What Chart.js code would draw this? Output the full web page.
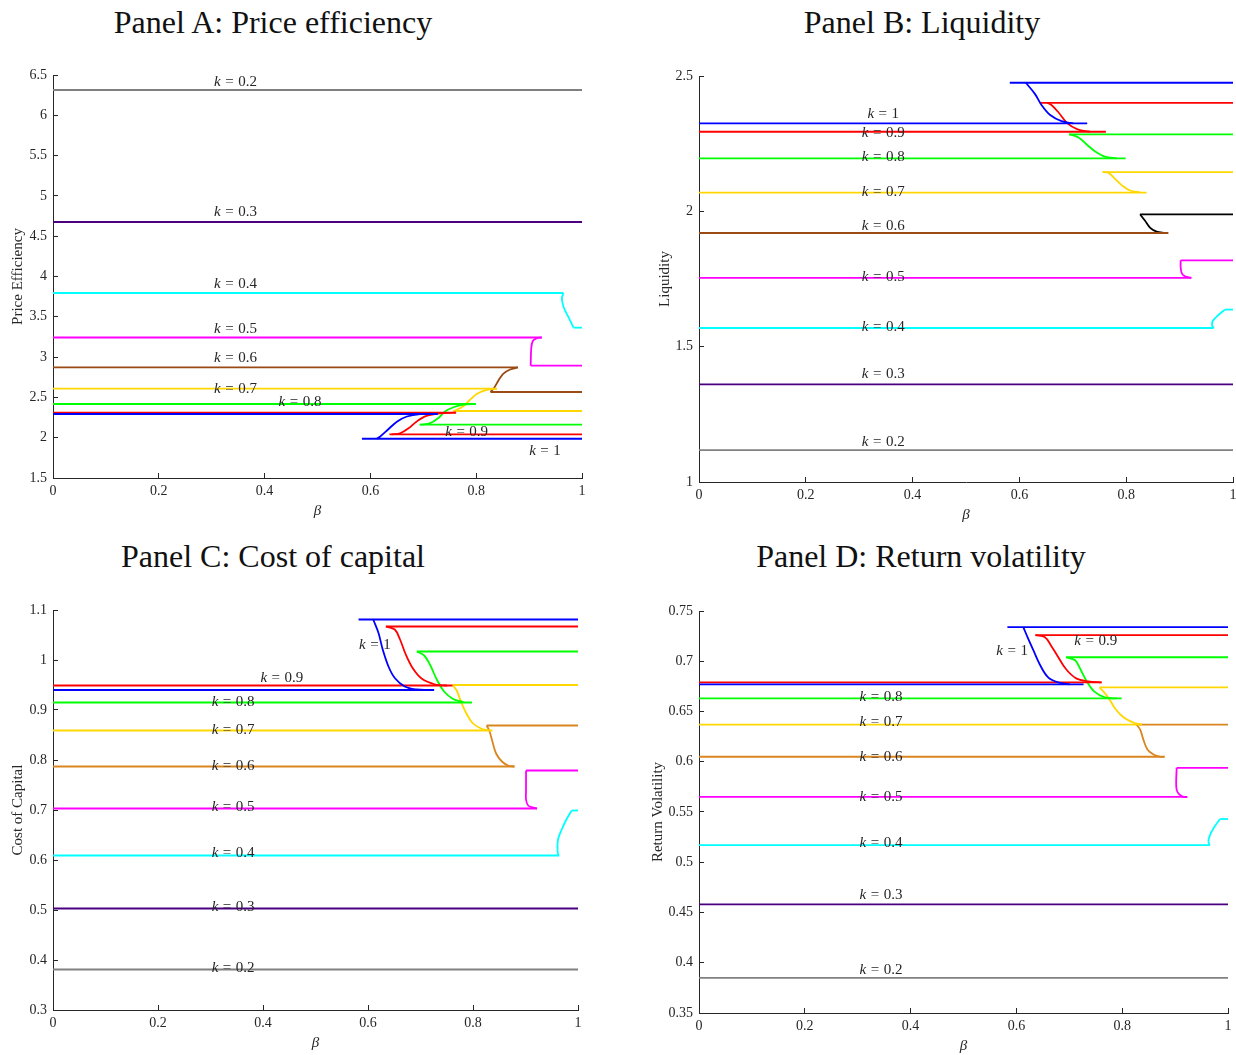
<!DOCTYPE html>
<html>
<head>
<meta charset="utf-8">
<script src="https://cdn.jsdelivr.net/npm/chart.js@4.4.1/dist/chart.umd.min.js"></script>
<style>
body { margin: 0; background: #fff; width: 1236px; height: 1055px; overflow: hidden; position: relative;
       font-family: "Liberation Serif", "Times New Roman", serif; }
.ttl { position: absolute; font-size: 32px; line-height: 32px; color: #111; white-space: nowrap; transform: translateX(-50%); }
canvas { position: absolute; }
</style>
</head>
<body>
<div class="ttl" style="left:273px; top:6px">Panel A: Price efficiency</div>
<div class="ttl" style="left:922px; top:6px">Panel B: Liquidity</div>
<div class="ttl" style="left:273px; top:540px">Panel C: Cost of capital</div>
<div class="ttl" style="left:921px; top:540px">Panel D: Return volatility</div>

<canvas id="chartA" width="600" height="475" style="left:0; top:45px"></canvas>
<canvas id="chartB" width="606" height="479" style="left:630px; top:45px"></canvas>
<canvas id="chartC" width="600" height="472" style="left:0; top:580px"></canvas>
<canvas id="chartD" width="606" height="475" style="left:630px; top:580px"></canvas>

<script>
// k levels, same order in every array below
const kLevels = ['1', '0.9', '0.8', '0.7', '0.6', '0.5', '0.4', '0.3', '0.2'];
const betaTicks = [0, 0.2, 0.4, 0.6, 0.8, 1];

// branches are [beta from, beta to, value]; folds are lists of [beta, value]

// Panel A: price efficiency
const priceTicks = [1.5, 2, 2.5, 3, 3.5, 4, 4.5, 5, 5.5, 6, 6.5];
const priceLeft = [[0, 0.727, 2.294], [0, 0.762, 2.310], [0, 0.799, 2.418], [0, 0.839, 2.610], [0, 0.879, 2.872],
                   [0, 0.924, 3.243], [0, 0.965, 3.795], [0, 1, 4.676], [0, 1, 6.314]];
const priceRight = [[0.584, 1, 1.987], [0.636, 1, 2.042], [0.693, 1, 2.161], [0.757, 1, 2.331], [0.827, 1, 2.567],
                    [0.903, 1, 2.893], [0.984, 1, 3.365], null, null];
const priceFold = [
    [[0.727, 2.294], [0.694, 2.292], [0.669, 2.263], [0.650, 2.199], [0.634, 2.105], [0.618, 2.012], [0.612, 1.987]],
    [[0.762, 2.310], [0.732, 2.303], [0.706, 2.270], [0.687, 2.199], [0.672, 2.116], [0.656, 2.054], [0.640, 2.042]],
    [[0.799, 2.418], [0.776, 2.411], [0.757, 2.378], [0.741, 2.324], [0.728, 2.242], [0.713, 2.180], [0.695, 2.161]],
    [[0.839, 2.610], [0.820, 2.592], [0.801, 2.542], [0.788, 2.468], [0.776, 2.393], [0.763, 2.344], [0.757, 2.331]],
    [[0.879, 2.872], [0.864, 2.846], [0.851, 2.793], [0.842, 2.710], [0.834, 2.620], [0.827, 2.567]],
    [[0.924, 3.243], [0.914, 3.233], [0.907, 3.200], [0.904, 3.109], [0.903, 2.893]],
    [[0.965, 3.795], [0.962, 3.729], [0.965, 3.625], [0.974, 3.501], [0.984, 3.365]],
    [], []
];
const priceLabelAt = [[0.930, 1.835], [0.782, 2.074], [0.467, 2.439], [0.345, 2.600], [0.345, 2.985],
                      [0.345, 3.345], [0.345, 3.907], [0.345, 4.804], [0.345, 6.417]];

// Panel B: liquidity
const liqTicks = [1, 1.5, 2, 2.5];
const liqLeft = [[0, 0.727, 2.325], [0, 0.762, 2.294], [0, 0.799, 2.196], [0, 0.838, 2.069], [0, 0.879, 1.920],
                 [0, 0.922, 1.754], [0, 0.964, 1.569], [0, 1, 1.361], [0, 1, 1.118]];
const liqRight = [[0.582, 1, 2.475], [0.639, 1, 2.401], [0.693, 1, 2.284], [0.756, 1, 2.145], [0.826, 1, 1.989],
                  [0.902, 1, 1.819], [0.985, 1, 1.637], null, null];
const liqFold = [
    [[0.612, 2.475], [0.629, 2.434], [0.642, 2.391], [0.657, 2.357], [0.679, 2.333], [0.701, 2.325]],
    [[0.652, 2.401], [0.660, 2.393], [0.673, 2.366], [0.690, 2.325], [0.709, 2.303], [0.732, 2.294]],
    [[0.693, 2.284], [0.710, 2.274], [0.726, 2.247], [0.742, 2.221], [0.760, 2.202], [0.782, 2.196]],
    [[0.756, 2.145], [0.767, 2.142], [0.779, 2.120], [0.792, 2.096], [0.807, 2.077], [0.826, 2.070]],
    [[0.826, 1.989], [0.835, 1.966], [0.845, 1.939], [0.857, 1.925], [0.873, 1.920]],
    [[0.902, 1.819], [0.902, 1.794], [0.904, 1.772], [0.910, 1.760], [0.922, 1.754]],
    [[0.985, 1.637], [0.972, 1.616], [0.962, 1.595], [0.961, 1.578], [0.964, 1.569]],
    [], []
];
const liqLabelAt = [[0.345, 2.360], [0.345, 2.288], [0.345, 2.199], [0.345, 2.071], [0.345, 1.945],
                    [0.345, 1.756], [0.345, 1.573], [0.345, 1.398], [0.345, 1.148]];

// Panel C: cost of capital
const cocTicks = [0.3, 0.4, 0.5, 0.6, 0.7, 0.8, 0.9, 1, 1.1];
const cocLeft = [[0, 0.726, 0.940], [0, 0.761, 0.949], [0, 0.798, 0.915], [0, 0.837, 0.859], [0, 0.879, 0.787],
                 [0, 0.922, 0.703], [0, 0.964, 0.609], [0, 1, 0.503], [0, 1, 0.381]];
const cocRight = [[0.582, 1, 1.081], [0.634, 1, 1.067], [0.693, 1, 1.017], [0.761, 1, 0.950], [0.826, 1, 0.869],
                  [0.901, 1, 0.779], [0.988, 1, 0.699], null, null];
const cocFold = [
    [[0.610, 1.081], [0.620, 1.054], [0.628, 1.021], [0.639, 0.987], [0.651, 0.964], [0.670, 0.947], [0.693, 0.941], [0.715, 0.940]],
    [[0.634, 1.067], [0.651, 1.061], [0.661, 1.041], [0.672, 1.011], [0.685, 0.984], [0.702, 0.963], [0.728, 0.951], [0.750, 0.949]],
    [[0.693, 1.017], [0.707, 1.009], [0.718, 0.991], [0.731, 0.961], [0.745, 0.937], [0.762, 0.922], [0.782, 0.916]],
    [[0.761, 0.950], [0.769, 0.939], [0.777, 0.917], [0.787, 0.894], [0.799, 0.874], [0.815, 0.863], [0.830, 0.859]],
    [[0.826, 0.869], [0.831, 0.859], [0.837, 0.837], [0.844, 0.813], [0.855, 0.797], [0.867, 0.789], [0.879, 0.787]],
    [[0.901, 0.779], [0.901, 0.741], [0.901, 0.721], [0.905, 0.709], [0.915, 0.705], [0.922, 0.703]],
    [[0.988, 0.699], [0.978, 0.681], [0.969, 0.661], [0.962, 0.641], [0.961, 0.621], [0.962, 0.611], [0.964, 0.609]],
    [], []
];
const cocLabelAt = [[0.613, 1.029], [0.436, 0.963], [0.343, 0.916], [0.343, 0.860], [0.343, 0.788],
                    [0.343, 0.706], [0.343, 0.613], [0.343, 0.505], [0.343, 0.383]];

// Panel D: return volatility
const volTicks = [0.35, 0.4, 0.45, 0.5, 0.55, 0.6, 0.65, 0.7, 0.75];
const volLeft = [[0, 0.727, 0.677], [0, 0.761, 0.679], [0, 0.799, 0.663], [0, 0.837, 0.637], [0, 0.880, 0.605],
                 [0, 0.923, 0.565], [0, 0.966, 0.517], [0, 1, 0.458], [0, 1, 0.385]];
const volRight = [[0.583, 1, 0.734], [0.636, 1, 0.726], [0.694, 1, 0.704], [0.757, 1, 0.674], [0.827, 1, 0.637],
                  [0.903, 1, 0.594], [0.985, 1, 0.543], null, null];
const volFold = [
    [[0.613, 0.734], [0.621, 0.724], [0.632, 0.711], [0.645, 0.696], [0.660, 0.684], [0.679, 0.679], [0.701, 0.677]],
    [[0.636, 0.726], [0.654, 0.724], [0.665, 0.716], [0.678, 0.705], [0.694, 0.692], [0.713, 0.683], [0.736, 0.680], [0.761, 0.679]],
    [[0.694, 0.704], [0.711, 0.701], [0.722, 0.691], [0.733, 0.680], [0.747, 0.670], [0.767, 0.664], [0.790, 0.663]],
    [[0.757, 0.674], [0.766, 0.669], [0.776, 0.662], [0.788, 0.652], [0.803, 0.644], [0.821, 0.639], [0.837, 0.637]],
    [[0.827, 0.637], [0.834, 0.632], [0.840, 0.622], [0.848, 0.612], [0.860, 0.607], [0.871, 0.605], [0.880, 0.605]],
    [[0.903, 0.594], [0.902, 0.579], [0.903, 0.572], [0.907, 0.568], [0.916, 0.565], [0.923, 0.565]],
    [[0.985, 0.543], [0.974, 0.535], [0.966, 0.527], [0.963, 0.521], [0.965, 0.517]],
    [], []
];
const volLabelAt = [[0.592, 0.710], [0.750, 0.720], [0.344, 0.664], [0.344, 0.639], [0.344, 0.605],
                    [0.344, 0.565], [0.344, 0.519], [0.344, 0.467], [0.344, 0.393]];

// colours
const colorsBrown = ['#0000FF', '#FF0000', '#00FF00', '#FFD700', '#9A4A12', '#FF00FF', '#00FFFF', '#4B0082', '#808080'];
const colorsLiqRight = ['#0000FF', '#FF0000', '#00FF00', '#FFD700', '#000000', '#FF00FF', '#00FFFF', '#4B0082', '#808080'];
const colorsOrange = ['#0000FF', '#FF0000', '#00FF00', '#FFD700', '#DA8620', '#FF00FF', '#00FFFF', '#4B0082', '#808080'];

const FONT = 'Liberation Serif';
const INK = '#262626';

const kLabelPlugin = {
    id: 'kLabels',
    afterDatasetsDraw(chart, args, opts) {
        const ctx = chart.ctx;
        const x = chart.scales.x, y = chart.scales.y;
        const fs = 15, gap = 4.5;
        ctx.save();
        ctx.fillStyle = INK;
        ctx.textBaseline = 'middle';
        ctx.textAlign = 'left';
        opts.at.forEach(function (p, i) {
            const px = x.getPixelForValue(p[0]);
            const py = y.getPixelForValue(p[1]);
            ctx.font = 'italic ' + fs + 'px "' + FONT + '"';
            const wk = ctx.measureText('k').width;
            ctx.font = fs + 'px "' + FONT + '"';
            const weq = ctx.measureText('=').width;
            const wv = ctx.measureText(kLevels[i]).width;
            let cx = px - (wk + gap + weq + gap + wv) / 2;
            ctx.font = 'italic ' + fs + 'px "' + FONT + '"';
            ctx.fillText('k', cx, py);
            cx += wk + gap;
            ctx.font = fs + 'px "' + FONT + '"';
            ctx.fillText('=', cx, py);
            cx += weq + gap;
            ctx.fillText(kLevels[i], cx, py);
        });
        ctx.restore();
    }
};

function makeDatasets(left, right, fold, colors, rightColors) {
    const sets = [];
    kLevels.forEach(function (k, i) {
        const c = colors[i];
        const rc = rightColors[i];
        sets.push({label: 'k = ' + k, borderColor: c, tension: 0,
                   data: [{x: left[i][0], y: left[i][2]}, {x: left[i][1], y: left[i][2]}]});
        if (right[i]) {
            sets.push({label: 'k = ' + k, borderColor: rc, tension: 0,
                       data: [{x: right[i][0], y: right[i][2]}, {x: right[i][1], y: right[i][2]}]});
        }
        if (fold[i].length) {
            sets.push({label: 'k = ' + k, borderColor: rc, tension: 0.35,
                       data: fold[i].map(p => ({x: p[0], y: p[1]}))});
        }
    });
    return sets;
}

function renderPanel(id, geo, yTitle, yTicks, left, right, fold, colors, rightColors, labelAt) {
    const ctx = document.getElementById(id).getContext('2d');
    const tickFont = {family: FONT, size: 14};
    return new Chart(ctx, {
        type: 'line',
        data: {datasets: makeDatasets(left, right, fold, colors, rightColors)},
        options: {
            responsive: false,
            animation: false,
            layout: {padding: {top: geo.padTop, right: geo.padRight, left: 0, bottom: 0}},
            elements: {
                line: {borderWidth: 1.8, fill: false, borderJoinStyle: 'round', borderCapStyle: 'butt'},
                point: {radius: 0, hoverRadius: 0}
            },
            plugins: {
                legend: {display: false},
                tooltip: {enabled: false},
                kLabels: {at: labelAt}
            },
            scales: {
                x: {
                    type: 'linear', min: 0, max: 1,
                    afterBuildTicks: s => { s.ticks = betaTicks.map(v => ({value: v})); },
                    afterFit: s => { s.height = geo.xAxisH; s.paddingLeft = 0; s.paddingRight = 0; },
                    grid: {drawOnChartArea: false, tickLength: -5, color: INK},
                    border: {color: INK, width: 1},
                    ticks: {padding: 10, color: INK, font: tickFont, maxRotation: 0, autoSkip: false,
                            callback: v => String(v)},
                    title: {display: true, text: 'β', color: INK, padding: 0,
                            font: {family: FONT, size: 15, style: 'italic'}}
                },
                y: {
                    type: 'linear', min: yTicks[0], max: yTicks[yTicks.length - 1],
                    afterBuildTicks: s => { s.ticks = yTicks.map(v => ({value: v})); },
                    afterFit: s => { s.width = geo.yAxisW; s.paddingTop = 0; s.paddingBottom = 0; },
                    grid: {drawOnChartArea: false, tickLength: -5, color: INK},
                    border: {color: INK, width: 1},
                    ticks: {padding: 11, color: INK, font: tickFont, autoSkip: false,
                            callback: v => String(v)},
                    title: {display: true, text: yTitle, color: INK, padding: {top: geo.yTitlePad, bottom: 0},
                            font: {family: FONT, size: 15}}
                }
            }
        },
        plugins: [kLabelPlugin]
    });
}

document.addEventListener('DOMContentLoaded', function () {
    renderPanel('chartA', {padTop: 30, padRight: 18, xAxisH: 42, yAxisW: 53, yTitlePad: 9},
                'Price Efficiency', priceTicks, priceLeft, priceRight, priceFold, colorsBrown, colorsBrown, priceLabelAt);
    renderPanel('chartB', {padTop: 31, padRight: 3, xAxisH: 42, yAxisW: 69, yTitlePad: 26},
                'Liquidity', liqTicks, liqLeft, liqRight, liqFold, colorsBrown, colorsLiqRight, liqLabelAt);
    renderPanel('chartC', {padTop: 30, padRight: 22, xAxisH: 42, yAxisW: 53, yTitlePad: 9},
                'Cost of Capital', cocTicks, cocLeft, cocRight, cocFold, colorsOrange, colorsOrange, cocLabelAt);
    renderPanel('chartD', {padTop: 31, padRight: 8, xAxisH: 42, yAxisW: 69, yTitlePad: 19},
                'Return Volatility', volTicks, volLeft, volRight, volFold, colorsOrange, colorsOrange, volLabelAt);
});
</script>
</body>
</html>
